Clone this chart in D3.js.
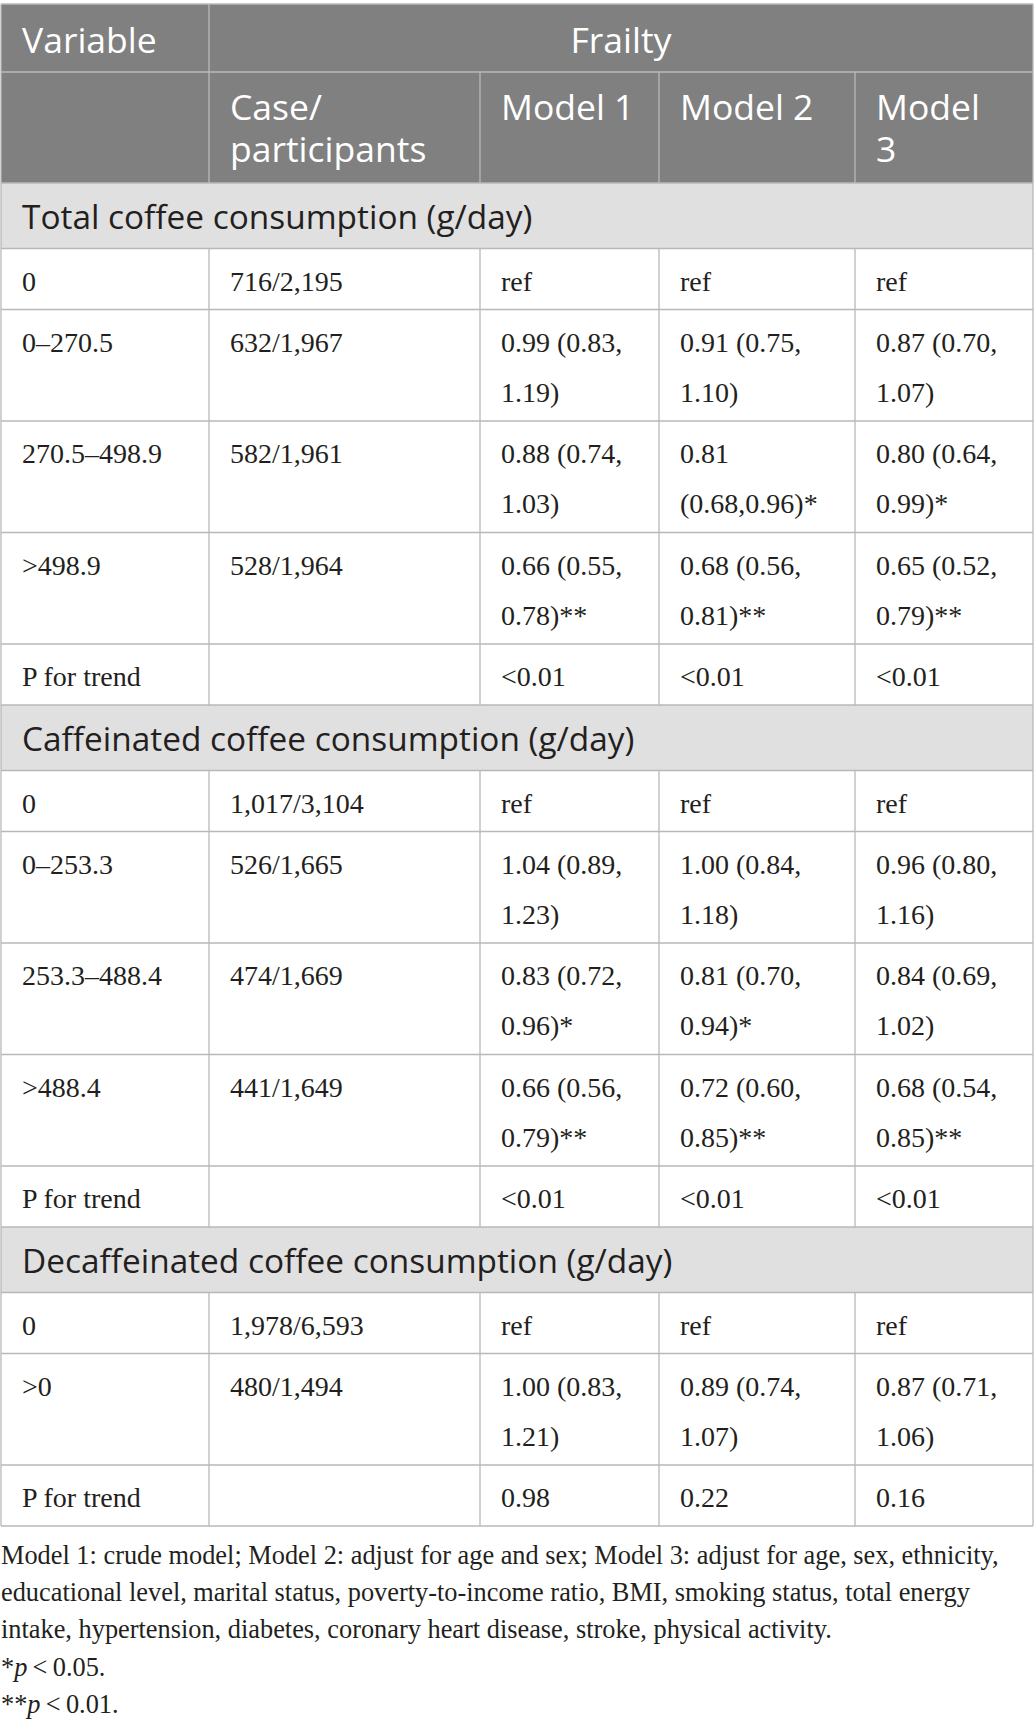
<!DOCTYPE html>
<html>
<head>
<meta charset="utf-8">
<script src="https://cdn.jsdelivr.net/npm/d3@7"></script>
<style>
  html, body { margin: 0; padding: 0; background: #ffffff; }
  svg { display: block; }
</style>
</head>
<body>
<div id="chart"></div>
<script>
// ---------------- DATA ----------------
const headerTop = ["Variable", "Frailty"];
const headerSub = ["", "Case/\nparticipants", "Model 1", "Model 2", "Model\n3"];

const sectionTitles = [
  "Total coffee consumption (g/day)",
  "Caffeinated coffee consumption (g/day)",
  "Decaffeinated coffee consumption (g/day)"
];

const totalLabels = ["0", "0\u2013270.5", "270.5\u2013498.9", ">498.9", "P for trend"];
const totalCases  = ["716/2,195", "632/1,967", "582/1,961", "528/1,964", ""];
const totalModel1 = ["ref", "0.99 (0.83, 1.19)", "0.88 (0.74, 1.03)", "0.66 (0.55, 0.78)**", "<0.01"];
const totalModel2 = ["ref", "0.91 (0.75, 1.10)", "0.81 (0.68,0.96)*", "0.68 (0.56, 0.81)**", "<0.01"];
const totalModel3 = ["ref", "0.87 (0.70, 1.07)", "0.80 (0.64, 0.99)*", "0.65 (0.52, 0.79)**", "<0.01"];

const caffLabels = ["0", "0\u2013253.3", "253.3\u2013488.4", ">488.4", "P for trend"];
const caffCases  = ["1,017/3,104", "526/1,665", "474/1,669", "441/1,649", ""];
const caffModel1 = ["ref", "1.04 (0.89, 1.23)", "0.83 (0.72, 0.96)*", "0.66 (0.56, 0.79)**", "<0.01"];
const caffModel2 = ["ref", "1.00 (0.84, 1.18)", "0.81 (0.70, 0.94)*", "0.72 (0.60, 0.85)**", "<0.01"];
const caffModel3 = ["ref", "0.96 (0.80, 1.16)", "0.84 (0.69, 1.02)", "0.68 (0.54, 0.85)**", "<0.01"];

const decafLabels = ["0", ">0", "P for trend"];
const decafCases  = ["1,978/6,593", "480/1,494", ""];
const decafModel1 = ["ref", "1.00 (0.83, 1.21)", "0.98"];
const decafModel2 = ["ref", "0.89 (0.74, 1.07)", "0.22"];
const decafModel3 = ["ref", "0.87 (0.71, 1.06)", "0.16"];

const footnoteLines = [
  "Model 1: crude model; Model 2: adjust for age and sex; Model 3: adjust for age, sex, ethnicity,",
  "educational level, marital status, poverty-to-income ratio, BMI, smoking status, total energy",
  "intake, hypertension, diabetes, coronary heart disease, stroke, physical activity."
];
const sigNotes = [["*", "p", "\u2009<\u20090.05."], ["**", "p", "\u2009<\u20090.01."]];

// ---------------- LAYOUT ----------------
const W = 1035, H = 1731;
const colKeys = ["label", "cases", "m1", "m2", "m3"];
const colEdges = [1, 209, 480, 659, 855, 1033];
const xLeft = d3.scaleOrdinal().domain(colKeys).range(colEdges.slice(0, 5));
const xRight = d3.scaleOrdinal().domain(colKeys).range(colEdges.slice(1));
const pad = 21;

const sansFont = "'Open Sans', 'Noto Sans', sans-serif";
const serifFont = "'Liberation Serif', 'DejaVu Serif', serif";
const headerBg = "#808080";
const sectionBg = "#e1e0e1";
const lineColor = "#b8b8b8";
const textDark = "#231f20";

const tableTop = 4;
const hRow1 = 68, hRow2 = 111;
const secH = 65.5, singleH = 61, doubleH = 111.5;

function splitCell(s) {
  if (s.includes("\n")) return s.split("\n");
  if (s.includes("(")) {
    const i = s.lastIndexOf(" ");
    return [s.slice(0, i), s.slice(i + 1)];
  }
  return [s];
}

const groups = [
  [totalLabels, totalCases, totalModel1, totalModel2, totalModel3],
  [caffLabels, caffCases, caffModel1, caffModel2, caffModel3],
  [decafLabels, decafCases, decafModel1, decafModel2, decafModel3]
];

const bodyRows = [];
groups.forEach((g, gi) => {
  bodyRows.push({ type: "section", title: sectionTitles[gi] });
  g[0].forEach((lab, ri) => {
    const cells = colKeys.map((k, ci) => ({ key: k, lines: splitCell(g[ci][ri]) }));
    const maxLines = d3.max(cells, c => c.lines.length);
    bodyRows.push({ type: "data", cells, lines: maxLines });
  });
});
const heights = bodyRows.map(r => r.type === "section" ? secH : (r.lines > 1 ? doubleH : singleH));
const bodyStart = tableTop + hRow1 + hRow2;
const cum = [0].concat(Array.from(d3.cumsum(heights)));
const yScale = d3.scaleLinear().domain([0, 1]).range([bodyStart, bodyStart + 1]);
bodyRows.forEach((r, i) => { r.y0 = yScale(cum[i]); r.y1 = yScale(cum[i + 1]); });
const tableBottom = bodyRows[bodyRows.length - 1].y1;

// ---------------- DRAW ----------------
const svg = d3.select("#chart").append("svg")
  .attr("width", W).attr("height", H)
  .attr("viewBox", `0 0 ${W} ${H}`);

svg.append("rect").attr("width", W).attr("height", H).attr("fill", "#fff");

svg.append("rect")
  .attr("x", colEdges[0]).attr("y", tableTop)
  .attr("width", colEdges[5] - colEdges[0]).attr("height", hRow1 + hRow2)
  .attr("fill", headerBg);

svg.selectAll("rect.sec").data(bodyRows.filter(r => r.type === "section"))
  .join("rect").attr("class", "sec")
  .attr("x", colEdges[0]).attr("y", d => d.y0)
  .attr("width", colEdges[5] - colEdges[0]).attr("height", d => d.y1 - d.y0)
  .attr("fill", sectionBg);

// Header text
const hdr = svg.append("g").attr("font-family", sansFont).attr("font-size", 35.5).attr("fill", "#ffffff");
hdr.append("text").attr("x", xLeft("label") + pad).attr("y", tableTop + 49).text(headerTop[0]);
hdr.append("text").attr("x", (xLeft("cases") + xRight("m3")) / 2).attr("y", tableTop + 49)
  .attr("text-anchor", "middle").text(headerTop[1]);
headerSub.forEach((h, i) => {
  if (!h) return;
  const lines = h.split("\n");
  const t = hdr.append("text").attr("x", xLeft(colKeys[i]) + pad).attr("y", tableTop + hRow1 + 48);
  lines.forEach((ln, li) => {
    t.append("tspan").attr("x", xLeft(colKeys[i]) + pad).attr("dy", li === 0 ? 0 : 42).text(ln);
  });
});

// Section titles
svg.selectAll("text.sectitle").data(bodyRows.filter(r => r.type === "section"))
  .join("text").attr("class", "sectitle")
  .attr("x", xLeft("label") + pad).attr("y", d => d.y0 + 46)
  .attr("font-family", sansFont).attr("font-size", 33.4).attr("fill", textDark)
  .text(d => d.title);

// Data cells
const dataRows = bodyRows.filter(r => r.type === "data");
const rowG = svg.selectAll("g.row").data(dataRows).join("g").attr("class", "row");
rowG.selectAll("text").data(d => d.cells.map(c => Object.assign({ y0: d.y0 }, c)))
  .join("text")
  .attr("font-family", serifFont).attr("font-size", 28).attr("fill", textDark)
  .attr("y", d => d.y0 + 42)
  .each(function (d) {
    const t = d3.select(this);
    d.lines.forEach((ln, li) => {
      t.append("tspan").attr("x", xLeft(d.key) + pad).attr("dy", li === 0 ? 0 : 50).text(ln);
    });
  });

// Grid lines
const lines = svg.append("g").attr("stroke", lineColor).attr("stroke-width", 1.3).attr("fill", "none");
const hY = [tableTop, tableTop + hRow1, tableTop + hRow1 + hRow2].concat(bodyRows.map(r => r.y1));
lines.selectAll("line.h").data(hY).join("line").attr("class", "h")
  .attr("x1", colEdges[0]).attr("x2", colEdges[5]).attr("y1", d => d).attr("y2", d => d);
lines.append("line").attr("x1", colEdges[0]).attr("x2", colEdges[0]).attr("y1", tableTop).attr("y2", tableBottom);
lines.append("line").attr("x1", colEdges[5]).attr("x2", colEdges[5]).attr("y1", tableTop).attr("y2", tableBottom);
lines.append("line").attr("x1", colEdges[1]).attr("x2", colEdges[1]).attr("y1", tableTop).attr("y2", tableTop + hRow1 + hRow2);
[2, 3, 4].forEach(i => {
  lines.append("line").attr("x1", colEdges[i]).attr("x2", colEdges[i])
    .attr("y1", tableTop + hRow1).attr("y2", tableTop + hRow1 + hRow2);
});
dataRows.forEach(r => {
  [1, 2, 3, 4].forEach(i => {
    lines.append("line").attr("x1", colEdges[i]).attr("x2", colEdges[i]).attr("y1", r.y0).attr("y2", r.y1);
  });
});

// Footnotes
const foot = svg.append("g").attr("font-family", serifFont).attr("fill", textDark);
const probe = foot.append("text").attr("font-size", 100).text(footnoteLines[0]);
const w100 = probe.node().getComputedTextLength();
probe.remove();
const footSize = Math.min(30, 100 * 998 / w100);
const footBase = [1564, 1601, 1638, 1676, 1713];
foot.selectAll("text.fn").data(footnoteLines).join("text").attr("class", "fn")
  .attr("x", 1).attr("y", (d, i) => footBase[i]).attr("font-size", footSize).text(d => d);
sigNotes.forEach((s, i) => {
  const t = foot.append("text").attr("x", 1).attr("y", footBase[3 + i]).attr("font-size", footSize);
  t.append("tspan").text(s[0]);
  t.append("tspan").attr("font-style", "italic").text(s[1]);
  t.append("tspan").text(s[2]);
});
</script>
</body>
</html>
